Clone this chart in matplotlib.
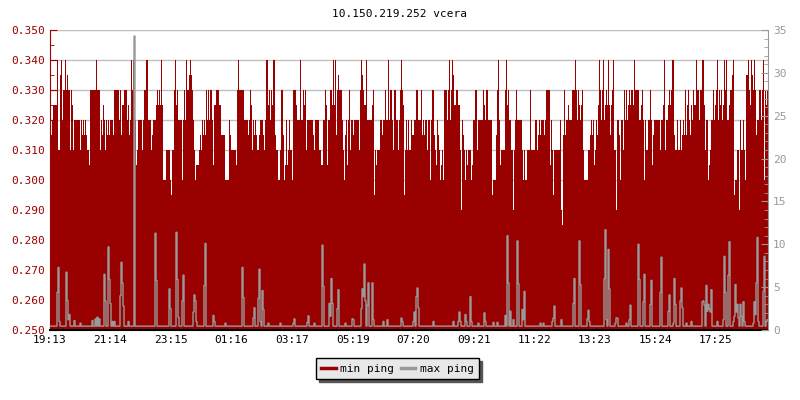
#!/usr/bin/env python3

import matplotlib
matplotlib.use('Agg')
import matplotlib.pyplot as plt
from matplotlib.lines import Line2D
from matplotlib.ticker import MultipleLocator, FormatStrFormatter
import numpy as np

TITLE = '10.150.219.252 vcera'
STEP_MIN = 2  # one sample every 2 minutes, starting at 19:13

# min ping in microseconds, one value per sample, in four 6 hour blocks
min_ping_1 = [
    315, 315, 320, 325, 325, 325, 325, 340, 310, 310,
    335, 340, 320, 330, 330, 340, 330, 335, 330, 330,
    310, 330, 325, 310, 320, 320, 320, 320, 320, 320,
    310, 320, 315, 320, 315, 320, 315, 310, 310, 305,
    330, 330, 330, 330, 330, 330, 340, 330, 330, 330,
    310, 320, 315, 325, 320, 310, 320, 315, 320, 315,
    320, 320, 320, 315, 330, 330, 330, 330, 330, 320,
    330, 315, 325, 325, 330, 330, 330, 320, 325, 315,
    320, 340, 330, 340, 320, 320, 305, 310, 320, 320,
    320, 320, 310, 320, 330, 330, 340, 340, 320, 320,
    320, 310, 315, 320, 320, 320, 325, 330, 325, 330,
    325, 340, 325, 300, 300, 300, 310, 310, 310, 310,
    300, 295, 310, 310, 330, 340, 325, 330, 320, 320,
    320, 320, 300, 320, 330, 320, 340, 330, 330, 335,
    340, 335, 330, 320, 310, 300, 305, 305, 305, 310,
    315, 310, 320, 315, 320, 315, 330, 320, 330, 320,
    330, 330, 320, 305, 325, 325, 330, 330, 330, 325,
    325, 315, 315, 315, 315, 300, 300, 300, 300, 320,
]
min_ping_2 = [
    315, 310, 310, 310, 310, 310, 305, 330, 340, 330,
    330, 330, 330, 330, 320, 320, 320, 320, 315, 320,
    330, 325, 310, 320, 315, 320, 315, 310, 310, 315,
    320, 320, 320, 315, 310, 320, 340, 340, 325, 330,
    320, 330, 325, 340, 340, 315, 310, 310, 300, 300,
    310, 330, 330, 315, 300, 305, 320, 305, 310, 320,
    310, 310, 300, 330, 330, 330, 325, 320, 320, 320,
    340, 320, 320, 330, 325, 330, 310, 320, 320, 320,
    320, 320, 320, 315, 310, 320, 320, 320, 320, 310,
    310, 305, 305, 320, 320, 330, 325, 305, 320, 320,
    330, 330, 325, 340, 325, 340, 315, 330, 335, 330,
    330, 330, 320, 310, 300, 315, 320, 305, 320, 330,
    310, 320, 320, 315, 320, 320, 320, 320, 320, 310,
    330, 340, 335, 330, 325, 325, 340, 320, 320, 320,
    320, 320, 325, 330, 295, 310, 305, 310, 310, 310,
    320, 320, 315, 320, 320, 330, 320, 320, 340, 320,
    330, 330, 320, 310, 330, 330, 320, 320, 310, 320,
    330, 340, 330, 325, 295, 310, 320, 310, 320, 310,
]
min_ping_3 = [
    310, 320, 315, 315, 320, 320, 330, 330, 320, 320,
    320, 330, 315, 320, 315, 320, 320, 310, 320, 320,
    300, 320, 330, 330, 315, 310, 305, 320, 315, 310,
    300, 305, 310, 300, 330, 330, 330, 320, 330, 340,
    320, 330, 340, 335, 325, 325, 330, 330, 325, 325,
    310, 290, 320, 315, 310, 300, 310, 305, 310, 310,
    310, 300, 305, 320, 320, 330, 330, 310, 320, 320,
    320, 320, 320, 330, 325, 320, 330, 330, 320, 320,
    320, 320, 295, 300, 300, 300, 315, 330, 340, 320,
    305, 310, 310, 310, 310, 330, 340, 325, 330, 320,
    320, 310, 310, 290, 310, 320, 330, 320, 320, 320,
    320, 320, 310, 300, 310, 300, 300, 310, 310, 310,
    330, 310, 310, 310, 310, 320, 320, 310, 315, 320,
    315, 320, 320, 320, 315, 320, 330, 330, 330, 330,
    305, 320, 310, 295, 310, 310, 310, 310, 310, 310,
    320, 290, 285, 315, 330, 315, 320, 320, 325, 320,
    320, 320, 330, 330, 330, 340, 330, 320, 330, 325,
    320, 325, 330, 310, 300, 300, 300, 300, 310, 310,
]
min_ping_4 = [
    315, 320, 315, 320, 305, 310, 320, 315, 325, 340,
    330, 320, 330, 340, 320, 325, 330, 325, 340, 325,
    315, 325, 330, 340, 310, 310, 290, 320, 320, 315,
    300, 320, 320, 310, 330, 320, 330, 320, 325, 330,
    325, 330, 330, 325, 340, 330, 330, 330, 330, 320,
    320, 325, 330, 320, 300, 320, 310, 310, 320, 320,
    330, 320, 305, 315, 320, 320, 320, 320, 320, 320,
    310, 320, 320, 325, 340, 310, 320, 320, 325, 330,
    325, 330, 340, 340, 315, 310, 310, 320, 310, 310,
    320, 310, 315, 320, 315, 330, 315, 325, 330, 320,
    315, 325, 320, 330, 325, 325, 340, 330, 330, 320,
    330, 330, 340, 340, 325, 310, 320, 320, 300, 305,
    310, 320, 320, 330, 320, 325, 330, 340, 320, 330,
    325, 330, 320, 325, 340, 330, 340, 320, 320, 325,
    330, 330, 335, 340, 295, 300, 300, 310, 310, 290,
    320, 310, 310, 320, 310, 300, 335, 335, 340, 330,
    325, 340, 335, 330, 340, 330, 315, 320, 320, 330,
    330, 320, 330, 340, 300, 330, 325, 330,
]

# max ping: flat floor with spikes (sample index -> value)
max_floor = 0.45
max_spike_idx = [
    7, 8, 9, 16, 17, 18, 19, 24, 30, 42, 45, 47, 49, 54, 55, 58, 59, 60, 62, 64,
    70, 71, 72, 73, 78, 84, 105, 106, 119, 120, 126, 127, 128, 132, 133, 143, 144, 145, 146,
    154, 155, 163, 164, 175, 192, 193, 203, 204, 208, 209, 210, 212, 213, 218, 230,
    243, 244, 257, 258, 264, 272, 273, 279, 280, 281, 282, 287, 288, 295, 302, 303,
    311, 312, 313, 314, 315, 317, 318, 322, 323, 333, 337, 351, 352, 363, 364, 366, 367, 368,
    383, 403, 408, 409, 410, 415, 416, 420, 421, 428, 434, 435, 443, 447, 455, 457, 458,
    460, 463, 467, 468, 472, 473, 474, 490, 493, 502, 503, 504, 511, 523, 524, 529, 530,
    537, 538, 539, 554, 555, 556, 558, 559, 565, 566, 567, 576, 579, 580, 588, 589, 593, 594,
    600, 601, 610, 611, 618, 619, 623, 624, 625, 630, 631, 632, 636, 641, 652, 653, 654,
    656, 657, 658, 659, 660, 661, 667, 673, 674, 675, 678, 679, 683, 684, 685, 686, 687,
    688, 690, 691, 693, 694, 703, 704, 705, 706, 707, 708, 713, 714, 716, 717,
]
max_spike_val = [
    4.4, 7.3, 1.0, 6.75, 3.45, 1.2, 1.8, 1.1, 0.8, 1.1, 1.3, 1.5, 1.3, 6.5, 3.4, 9.7, 5.9, 3.1, 1.0, 1.0,
    4.0, 7.9, 5.5, 2.8, 1.0, 34.3, 11.3, 5.8, 4.8, 2.5, 11.4, 5.9, 1.5, 3.4, 6.4, 2.1, 4.1, 3.4, 1.0,
    5.2, 10.1, 1.7, 1.0, 0.8, 7.3, 3.8, 1.4, 2.6, 3.7, 7.1, 1.0, 4.6, 2.4, 0.8, 0.8,
    0.8, 1.3, 0.9, 1.65, 0.8, 9.9, 5.1, 3.1, 1.6, 6.0, 3.1, 2.5, 4.7, 0.8, 1.3, 1.2,
    2.5, 4.8, 3.9, 7.7, 3.4, 2.9, 5.5, 5.5, 1.2, 1.0, 1.2, 1.4, 1.0, 1.0, 2.1, 3.9, 4.9, 2.6,
    1.0, 1.0, 1.0, 2.1, 1.0, 1.8, 1.0, 3.9, 1.0, 0.8, 2.0, 1.0, 0.9, 0.9, 1.7, 11.0, 5.5,
    2.2, 1.2, 10.4, 5.4, 2.4, 1.2, 4.5, 0.8, 0.8, 1.0, 1.4, 2.8, 1.2, 3.1, 6.0, 10.4, 5.3,
    1.3, 2.3, 1.0, 6.0, 11.7, 1.2, 9.4, 4.8, 0.8, 1.4, 1.4, 0.8, 1.2, 2.9, 10.0, 5.9, 3.3, 6.5,
    3.0, 5.8, 4.4, 8.5, 2.2, 4.1, 0.8, 6.0, 3.0, 3.4, 4.9, 2.6, 0.8, 1.0, 3.3, 3.4, 2.9,
    5.2, 2.2, 3.0, 2.5, 2.1, 4.7, 1.0, 1.2, 8.6, 4.4, 6.4, 10.3, 1.0, 1.6, 5.3, 2.1, 3.0,
    1.4, 3.0, 1.6, 3.3, 1.0, 0.8, 3.3, 1.8, 5.5, 10.8, 1.0, 4.5, 8.6, 1.0, 1.2,
]

time_labels = ['19:13', '21:14', '23:15', '01:16', '03:17', '05:19',
               '07:20', '09:21', '11:22', '13:23', '15:24', '17:25']

RED = '#990000'
GREY = '#999999'
MONO = 'DejaVu Sans Mono'


def label_minutes(labels):
    # minutes after the first label, wrapping past midnight
    out = []
    h0, m0 = map(int, labels[0].split(':'))
    start = h0 * 60 + m0
    for lab in labels:
        h, m = map(int, lab.split(':'))
        t = h * 60 + m
        if t < start:
            t += 24 * 60
        out.append(t - start)
    return out


def main():
    plt.rcParams['font.family'] = [MONO]
    plt.rcParams['font.size'] = 8

    min_ping = np.array(min_ping_1 + min_ping_2 + min_ping_3 + min_ping_4) / 1000.0
    n = len(min_ping)
    max_ping = np.full(n, max_floor)
    for i, v in zip(max_spike_idx, max_spike_val):
        if i < n:
            max_ping[i] = v
    edges = np.arange(n + 1) * STEP_MIN

    fig = plt.figure(figsize=(8, 4), dpi=100)
    ax = fig.add_axes([0.0625, 0.175, 0.8975, 0.75])
    ax2 = ax.twinx()

    ax.stairs(min_ping, edges, baseline=0.25, fill=True, color=RED, lw=0)
    ax2.stairs(max_ping, edges, baseline=None, color=GREY, lw=1)

    ax.set_xlim(0, edges[-1])
    ax.set_ylim(0.25, 0.35)
    ax2.set_ylim(0, 35)

    ax.yaxis.set_major_locator(MultipleLocator(0.01))
    ax.yaxis.set_minor_locator(MultipleLocator(0.005))
    ax.yaxis.set_major_formatter(FormatStrFormatter('%.3f'))
    ax2.yaxis.set_major_locator(MultipleLocator(5))
    ax2.yaxis.set_minor_locator(MultipleLocator(1))

    ax.set_xticks(label_minutes(time_labels))
    ax.set_xticklabels(time_labels)

    ax.grid(axis='y', color='#c0c0c0', lw=1)
    ax.set_axisbelow(True)

    for a in (ax, ax2):
        a.spines['top'].set_visible(False)
    ax.spines['right'].set_visible(False)
    ax2.spines['left'].set_visible(False)
    ax2.spines['bottom'].set_visible(False)
    ax.spines['left'].set_color(RED)
    ax2.spines['right'].set_color(GREY)
    ax.spines['bottom'].set_color('black')
    ax.spines['bottom'].set_linewidth(1.5)

    ax.tick_params(axis='y', which='both', direction='in', colors=RED, labelcolor=RED)
    ax.tick_params(axis='y', which='major', length=5)
    ax.tick_params(axis='y', which='minor', length=3)
    ax2.tick_params(axis='y', which='both', direction='in', colors=GREY, labelcolor=GREY)
    ax2.tick_params(axis='y', which='major', length=5)
    ax2.tick_params(axis='y', which='minor', length=3)
    ax.tick_params(axis='x', direction='in', length=5, colors='black')

    fig.text(0.5, 0.965, TITLE, ha='center', va='center', fontsize=8)

    handles = [Line2D([], [], color=RED, lw=2.5), Line2D([], [], color=GREY, lw=2.5)]
    fig.legend(handles, ['min ping', 'max ping'], loc='center', bbox_to_anchor=(0.497, 0.078),
               ncol=2, frameon=True, fancybox=False, shadow={'color': '#555555', 'alpha': 1},
               facecolor='#e8e8e8', edgecolor='black', framealpha=1,
               handlelength=1.3, handletextpad=0.4, columnspacing=0.6, borderpad=0.5)

    fig.savefig('out.png', dpi=100)


if __name__ == "__main__":
    main()
